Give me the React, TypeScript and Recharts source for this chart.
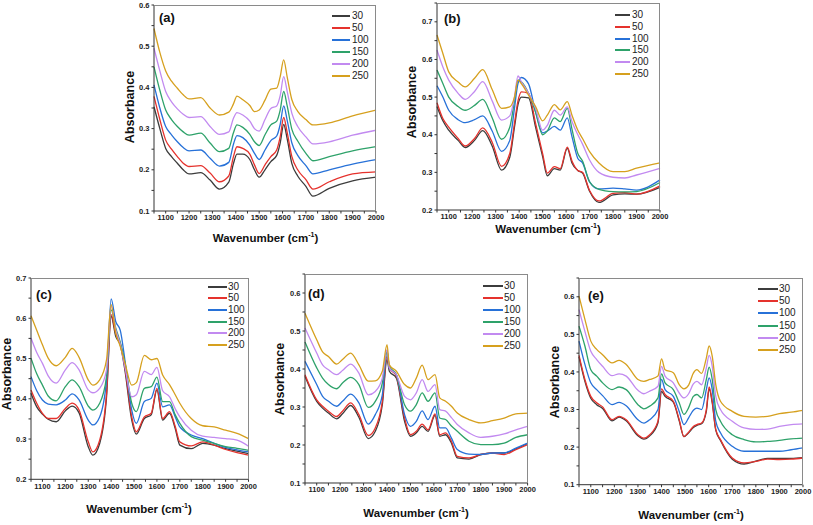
import React from 'react';
import { LineChart, Line, XAxis, YAxis } from 'recharts';

// temperatures shown in every legend
const seriesNames = ['30', '50', '100', '150', '200', '250'];
const seriesColors = ['#3c3c3c', '#e5322d', '#2771d8', '#2ea26a', '#c28af0', '#d6a01e'];

// x ticks (every 50, labels only on hundreds)
const xTicks = [1050, 1100, 1150, 1200, 1250, 1300, 1350, 1400, 1450, 1500, 1550, 1600, 1650, 1700, 1750, 1800, 1850, 1900, 1950, 2000];

// ---- panel (a)
const waveA = [1050, 1075, 1100, 1125, 1150, 1175, 1200, 1250, 1290, 1330, 1370, 1390, 1405, 1430, 1460, 1480, 1500, 1525, 1550, 1575, 1590, 1605, 1620, 1640, 1665, 1700, 1730, 1800, 1900, 2000];
const a30 = [0.353, 0.3, 0.252, 0.232, 0.216, 0.2, 0.19, 0.193, 0.175, 0.153, 0.17, 0.215, 0.238, 0.238, 0.225, 0.2, 0.182, 0.2, 0.22, 0.235, 0.265, 0.31, 0.275, 0.215, 0.185, 0.16, 0.136, 0.155, 0.173, 0.182];
const a50 = [0.378, 0.322, 0.272, 0.25, 0.232, 0.216, 0.208, 0.21, 0.192, 0.171, 0.185, 0.232, 0.256, 0.252, 0.238, 0.212, 0.191, 0.212, 0.232, 0.248, 0.28, 0.327, 0.29, 0.232, 0.2, 0.176, 0.153, 0.171, 0.19, 0.195];
const a100 = [0.406, 0.35, 0.305, 0.285, 0.268, 0.254, 0.246, 0.248, 0.228, 0.209, 0.218, 0.262, 0.283, 0.278, 0.26, 0.24, 0.225, 0.248, 0.271, 0.282, 0.31, 0.355, 0.32, 0.265, 0.235, 0.21, 0.19, 0.2, 0.214, 0.225];
const a150 = [0.45, 0.393, 0.345, 0.322, 0.305, 0.292, 0.284, 0.289, 0.265, 0.244, 0.252, 0.29, 0.309, 0.303, 0.286, 0.268, 0.259, 0.285, 0.309, 0.318, 0.345, 0.39, 0.355, 0.298, 0.27, 0.24, 0.222, 0.232, 0.246, 0.256];
const a200 = [0.495, 0.44, 0.39, 0.365, 0.348, 0.335, 0.327, 0.329, 0.305, 0.286, 0.292, 0.325, 0.339, 0.333, 0.318, 0.3, 0.294, 0.322, 0.349, 0.355, 0.38, 0.426, 0.39, 0.337, 0.305, 0.28, 0.263, 0.268, 0.284, 0.296];
const a250 = [0.543, 0.485, 0.44, 0.415, 0.398, 0.382, 0.372, 0.375, 0.35, 0.333, 0.34, 0.36, 0.379, 0.37, 0.356, 0.341, 0.345, 0.369, 0.396, 0.398, 0.426, 0.467, 0.425, 0.37, 0.342, 0.322, 0.309, 0.314, 0.331, 0.345];

// ---- panel (b)
const waveB = [1050, 1075, 1100, 1140, 1170, 1210, 1245, 1285, 1325, 1360, 1380, 1395, 1410, 1440, 1470, 1500, 1520, 1550, 1575, 1605, 1625, 1650, 1670, 1700, 1740, 1800, 1850, 1900, 2000];
const b30 = [0.475, 0.437, 0.412, 0.385, 0.366, 0.385, 0.411, 0.37, 0.306, 0.34, 0.42, 0.48, 0.5, 0.498, 0.42, 0.342, 0.291, 0.31, 0.306, 0.364, 0.325, 0.305, 0.298, 0.25, 0.22, 0.24, 0.243, 0.242, 0.26];
const b50 = [0.485, 0.443, 0.42, 0.39, 0.37, 0.39, 0.418, 0.38, 0.316, 0.35, 0.43, 0.49, 0.514, 0.51, 0.43, 0.35, 0.298, 0.315, 0.31, 0.367, 0.33, 0.305, 0.3, 0.252, 0.224, 0.244, 0.246, 0.242, 0.264];
const b100 = [0.53, 0.5, 0.465, 0.44, 0.432, 0.44, 0.45, 0.41, 0.356, 0.385, 0.47, 0.536, 0.552, 0.535, 0.46, 0.405, 0.41, 0.422, 0.412, 0.445, 0.395, 0.337, 0.325, 0.275, 0.256, 0.258, 0.256, 0.253, 0.28];
const b150 = [0.572, 0.536, 0.5, 0.475, 0.465, 0.478, 0.494, 0.445, 0.388, 0.42, 0.49, 0.545, 0.54, 0.51, 0.46, 0.4, 0.41, 0.445, 0.435, 0.47, 0.415, 0.35, 0.33, 0.275, 0.255, 0.249, 0.248, 0.249, 0.273];
const b200 = [0.625, 0.58, 0.545, 0.51, 0.494, 0.515, 0.541, 0.49, 0.439, 0.45, 0.5, 0.556, 0.54, 0.51, 0.47, 0.412, 0.425, 0.465, 0.452, 0.474, 0.435, 0.4, 0.375, 0.333, 0.3, 0.287, 0.285, 0.293, 0.311];
const b250 = [0.665, 0.616, 0.567, 0.54, 0.527, 0.55, 0.573, 0.52, 0.47, 0.474, 0.5, 0.545, 0.535, 0.505, 0.475, 0.437, 0.452, 0.48, 0.466, 0.488, 0.452, 0.412, 0.39, 0.355, 0.325, 0.302, 0.302, 0.311, 0.325];

// ---- panel (c)
const waveC = [1050, 1075, 1100, 1125, 1160, 1200, 1230, 1260, 1300, 1320, 1350, 1380, 1400, 1420, 1440, 1460, 1490, 1510, 1545, 1575, 1600, 1625, 1655, 1680, 1700, 1750, 1800, 1850, 1900, 1950, 2000];
const c30 = [0.414, 0.38, 0.362, 0.349, 0.343, 0.37, 0.382, 0.365, 0.281, 0.26, 0.289, 0.405, 0.605, 0.555, 0.534, 0.472, 0.347, 0.312, 0.351, 0.36, 0.422, 0.347, 0.364, 0.326, 0.285, 0.276, 0.289, 0.285, 0.276, 0.27, 0.264];
const c50 = [0.422, 0.389, 0.364, 0.351, 0.351, 0.376, 0.389, 0.372, 0.293, 0.268, 0.297, 0.414, 0.609, 0.563, 0.538, 0.48, 0.355, 0.318, 0.355, 0.364, 0.426, 0.351, 0.368, 0.331, 0.293, 0.283, 0.293, 0.285, 0.274, 0.266, 0.26];
const c100 = [0.455, 0.42, 0.397, 0.387, 0.385, 0.397, 0.412, 0.397, 0.347, 0.335, 0.355, 0.447, 0.648, 0.592, 0.57, 0.497, 0.372, 0.339, 0.393, 0.401, 0.439, 0.38, 0.385, 0.355, 0.33, 0.31, 0.301, 0.289, 0.279, 0.273, 0.268];
const c150 = [0.501, 0.462, 0.434, 0.407, 0.395, 0.43, 0.447, 0.43, 0.382, 0.372, 0.389, 0.455, 0.621, 0.576, 0.54, 0.49, 0.389, 0.368, 0.426, 0.43, 0.454, 0.393, 0.393, 0.36, 0.339, 0.306, 0.297, 0.289, 0.281, 0.277, 0.272];
const c200 = [0.551, 0.515, 0.488, 0.457, 0.439, 0.472, 0.49, 0.472, 0.422, 0.415, 0.426, 0.472, 0.63, 0.572, 0.535, 0.48, 0.405, 0.41, 0.468, 0.46, 0.478, 0.42, 0.405, 0.375, 0.355, 0.322, 0.307, 0.304, 0.301, 0.297, 0.282];
const c250 = [0.606, 0.57, 0.534, 0.501, 0.482, 0.503, 0.525, 0.503, 0.447, 0.434, 0.447, 0.497, 0.634, 0.563, 0.53, 0.49, 0.434, 0.44, 0.508, 0.497, 0.5, 0.459, 0.435, 0.41, 0.389, 0.351, 0.333, 0.33, 0.322, 0.314, 0.301];

// ---- panel (d)
const waveD = [1050, 1100, 1125, 1150, 1185, 1210, 1245, 1280, 1320, 1350, 1380, 1400, 1410, 1440, 1475, 1500, 1525, 1550, 1575, 1605, 1625, 1650, 1675, 1700, 1750, 1800, 1850, 1900, 1950, 2000];
const d30 = [0.381, 0.315, 0.297, 0.284, 0.269, 0.282, 0.304, 0.273, 0.217, 0.236, 0.306, 0.425, 0.394, 0.376, 0.262, 0.223, 0.232, 0.249, 0.236, 0.278, 0.223, 0.227, 0.205, 0.166, 0.163, 0.175, 0.179, 0.179, 0.19, 0.204];
const d50 = [0.385, 0.319, 0.302, 0.289, 0.275, 0.289, 0.311, 0.28, 0.225, 0.245, 0.315, 0.433, 0.403, 0.381, 0.271, 0.227, 0.236, 0.255, 0.24, 0.282, 0.227, 0.232, 0.21, 0.17, 0.166, 0.175, 0.179, 0.175, 0.188, 0.201];
const d100 = [0.42, 0.359, 0.328, 0.315, 0.302, 0.315, 0.334, 0.311, 0.255, 0.28, 0.332, 0.448, 0.403, 0.385, 0.28, 0.249, 0.262, 0.29, 0.267, 0.302, 0.245, 0.245, 0.218, 0.188, 0.176, 0.175, 0.179, 0.179, 0.192, 0.205];
const d150 = [0.471, 0.403, 0.376, 0.359, 0.348, 0.363, 0.378, 0.359, 0.299, 0.315, 0.363, 0.445, 0.407, 0.385, 0.306, 0.289, 0.306, 0.337, 0.315, 0.337, 0.271, 0.267, 0.25, 0.236, 0.21, 0.201, 0.201, 0.205, 0.22, 0.227];
const d200 = [0.508, 0.442, 0.411, 0.398, 0.385, 0.396, 0.413, 0.389, 0.332, 0.341, 0.376, 0.451, 0.403, 0.385, 0.328, 0.319, 0.337, 0.372, 0.341, 0.359, 0.293, 0.289, 0.272, 0.254, 0.232, 0.22, 0.223, 0.229, 0.24, 0.249];
const d250 = [0.547, 0.477, 0.445, 0.433, 0.413, 0.425, 0.442, 0.411, 0.368, 0.369, 0.394, 0.464, 0.411, 0.394, 0.359, 0.35, 0.376, 0.41, 0.372, 0.385, 0.324, 0.315, 0.302, 0.284, 0.267, 0.258, 0.264, 0.271, 0.282, 0.284];

// ---- panel (e)
const waveE = [1050, 1075, 1100, 1125, 1150, 1190, 1220, 1250, 1300, 1325, 1350, 1385, 1400, 1415, 1450, 1475, 1495, 1515, 1535, 1550, 1570, 1590, 1602, 1615, 1630, 1650, 1700, 1750, 1800, 1850, 1900, 1950, 2000];
const e30 = [0.44, 0.375, 0.33, 0.313, 0.303, 0.27, 0.28, 0.27, 0.23, 0.221, 0.23, 0.265, 0.348, 0.335, 0.32, 0.27, 0.228, 0.238, 0.252, 0.258, 0.262, 0.295, 0.355, 0.318, 0.245, 0.218, 0.168, 0.155, 0.163, 0.17, 0.17, 0.17, 0.172];
const e50 = [0.444, 0.38, 0.335, 0.318, 0.307, 0.273, 0.282, 0.273, 0.233, 0.224, 0.233, 0.269, 0.355, 0.34, 0.322, 0.273, 0.228, 0.24, 0.255, 0.26, 0.264, 0.3, 0.36, 0.322, 0.247, 0.22, 0.171, 0.158, 0.162, 0.168, 0.167, 0.168, 0.171];
const e100 = [0.482, 0.42, 0.371, 0.353, 0.337, 0.313, 0.319, 0.31, 0.273, 0.264, 0.273, 0.3, 0.38, 0.353, 0.335, 0.295, 0.26, 0.278, 0.298, 0.304, 0.3, 0.353, 0.384, 0.353, 0.269, 0.238, 0.202, 0.189, 0.189, 0.189, 0.189, 0.193, 0.198];
const e150 = [0.522, 0.469, 0.406, 0.389, 0.371, 0.353, 0.36, 0.353, 0.313, 0.302, 0.309, 0.331, 0.395, 0.371, 0.353, 0.318, 0.287, 0.305, 0.335, 0.34, 0.331, 0.38, 0.413, 0.38, 0.3, 0.269, 0.233, 0.22, 0.214, 0.215, 0.218, 0.222, 0.224];
const e200 = [0.566, 0.508, 0.455, 0.433, 0.415, 0.39, 0.395, 0.389, 0.351, 0.342, 0.349, 0.362, 0.415, 0.389, 0.371, 0.344, 0.331, 0.342, 0.368, 0.375, 0.366, 0.411, 0.444, 0.415, 0.335, 0.3, 0.269, 0.251, 0.247, 0.248, 0.255, 0.26, 0.262];
const e250 = [0.602, 0.54, 0.482, 0.46, 0.446, 0.424, 0.431, 0.42, 0.38, 0.375, 0.38, 0.389, 0.435, 0.406, 0.398, 0.366, 0.355, 0.365, 0.397, 0.406, 0.396, 0.437, 0.469, 0.442, 0.366, 0.322, 0.295, 0.282, 0.28, 0.282, 0.289, 0.293, 0.298];

const yTicksA = [0.1, 0.15, 0.2, 0.25, 0.3, 0.35, 0.4, 0.45, 0.5, 0.55, 0.6];
const yTicksB = [0.2, 0.25, 0.3, 0.35, 0.4, 0.45, 0.5, 0.55, 0.6, 0.65, 0.7, 0.75];
const yTicksC = [0.2, 0.25, 0.3, 0.35, 0.4, 0.45, 0.5, 0.55, 0.6, 0.65, 0.7];
const yTicksD = [0.1, 0.15, 0.2, 0.25, 0.3, 0.35, 0.4, 0.45, 0.5, 0.55, 0.6, 0.65];

const FONT = 'Arial, "Liberation Sans", sans-serif';

function rows(wave: number[], series: number[][]) {
	return wave.map((w, i) => {
		const r: any = { w };
		seriesNames.forEach((n, k) => (r['s' + n] = series[k][i]));
		return r;
	});
}

function yFmt(v: number) {
	return Math.abs(v * 10 - Math.round(v * 10)) < 1e-6 ? v.toFixed(1) : '';
}
function xFmt(v: number) {
	return v % 100 === 0 ? String(v) : '';
}

type PanelProps = {
	tag: string;
	data: any[];
	box: [number, number, number, number]; // x0, x1, y0, y1 of plot area
	yDomain: [number, number];
	yTicks: number[];
	labelPos: [number, number];
	yTitle: [number, number];
	xTitle: [number, number];
	legend: [number, number, number, number, number]; // lineX0, lineX1, textX, rowY0, step
};

const Panel = (p: PanelProps) => {
	const [x0, x1, y0, y1] = p.box;
	const left = x0 - 35;
	const top = y0 - 3;
	const width = x1 - x0 + 47;
	const height = y1 - y0 + 25;
	const [lx0, lx1, tx, ry0, step] = p.legend;
	const tickStyle = { fontSize: 7.5, fontWeight: 'bold', fill: '#222', fontFamily: FONT };
	return (
		<>
			<div style={{ position: 'absolute', left, top }}>
				<LineChart width={width} height={height} data={p.data} margin={{ top: 3, right: 12, left: 5, bottom: 5 }}>
					<XAxis
						dataKey="w"
						type="number"
						domain={[1050, 2000]}
						ticks={xTicks}
						interval={0}
						tickFormatter={xFmt}
						tick={tickStyle}
						tickSize={2.5}
						tickMargin={1.5}
						height={17}
						axisLine={{ stroke: '#333' }}
						tickLine={{ stroke: '#333' }}
					/>
					<YAxis
						type="number"
						domain={p.yDomain}
						ticks={p.yTicks}
						interval={0}
						tickFormatter={yFmt}
						tick={tickStyle}
						tickSize={2.5}
						tickMargin={2}
						width={30}
						axisLine={{ stroke: '#333' }}
						tickLine={{ stroke: '#333' }}
					/>
					{seriesNames.map((n, k) => (
						<Line
							key={n}
							type="monotone"
							dataKey={'s' + n}
							stroke={seriesColors[k]}
							strokeWidth={1.3}
							dot={false}
							isAnimationActive={false}
						/>
					))}
				</LineChart>
			</div>
			{/* top and right frame of the plot box */}
			<div style={{ position: 'absolute', left: x0, top: y0, width: x1 - x0, height: y1 - y0, borderTop: '1px solid #8a8a8a', borderRight: '1px solid #8a8a8a', boxSizing: 'border-box', pointerEvents: 'none' }} />
			<div style={{ position: 'absolute', left: p.labelPos[0], top: p.labelPos[1], transform: 'translateY(-50%)', fontSize: 13, fontWeight: 'bold', fontFamily: FONT, color: '#111', lineHeight: 1 }}>
				({p.tag})
			</div>
			<div style={{ position: 'absolute', left: p.yTitle[0], top: p.yTitle[1], transform: 'translate(-50%,-50%) rotate(-90deg)', fontSize: 12.5, fontWeight: 'bold', fontFamily: FONT, color: '#111', whiteSpace: 'nowrap', lineHeight: 1 }}>
				Absorbance
			</div>
			<div style={{ position: 'absolute', left: p.xTitle[0], top: p.xTitle[1], transform: 'translate(-50%,-50%)', fontSize: 11.5, fontWeight: 'bold', fontFamily: FONT, color: '#111', whiteSpace: 'nowrap', lineHeight: 1 }}>
				Wavenumber (cm<sup style={{ fontSize: 7, lineHeight: 0 }}>-1</sup>)
			</div>
			{seriesNames.map((n, k) => (
				<React.Fragment key={n}>
					<div style={{ position: 'absolute', left: lx0, top: Math.round(ry0 + k * step) - 1, width: lx1 - lx0, height: 2, background: seriesColors[k] }} />
					<div style={{ position: 'absolute', left: tx, top: Math.round(ry0 + k * step), transform: 'translateY(-50%)', fontSize: 10, fontFamily: FONT, color: '#222', lineHeight: 1 }}>
						{n}
					</div>
				</React.Fragment>
			))}
		</>
	);
};

const App = () => {
	const dataA = rows(waveA, [a30, a50, a100, a150, a200, a250]);
	const dataB = rows(waveB, [b30, b50, b100, b150, b200, b250]);
	const dataC = rows(waveC, [c30, c50, c100, c150, c200, c250]);
	const dataD = rows(waveD, [d30, d50, d100, d150, d200, d250]);
	const dataE = rows(waveE, [e30, e50, e100, e150, e200, e250]);
	return (
		<div style={{ position: 'absolute', left: 0, top: 0, width: 813, height: 525, background: '#fff', overflow: 'hidden' }}>
			<Panel tag="a" data={dataA} box={[154, 376, 5, 211]} yDomain={[0.1, 0.6]} yTicks={yTicksA} labelPos={[159, 17]} yTitle={[130, 107]} xTitle={[265.5, 239]} legend={[332, 350, 352, 16, 11.95]} />
			<Panel tag="b" data={dataB} box={[437, 660, 3, 210]} yDomain={[0.2, 0.75]} yTicks={yTicksB} labelPos={[444, 18]} yTitle={[412, 102]} xTitle={[548, 230]} legend={[615, 630, 632, 15, 11.8]} />
			<Panel tag="c" data={dataC} box={[31, 248.5, 277.7, 479]} yDomain={[0.2, 0.7]} yTicks={yTicksC} labelPos={[36, 294]} yTitle={[7, 374]} xTitle={[139, 510]} legend={[208, 227, 228, 286.7, 11.67]} />
			<Panel tag="d" data={dataD} box={[305, 527.6, 274.3, 483.3]} yDomain={[0.1, 0.65]} yTicks={yTicksD} labelPos={[308, 293]} yTitle={[280, 379]} xTitle={[416, 514]} legend={[483, 503, 504, 285.7, 12.1]} />
			<Panel tag="e" data={dataE} box={[579, 803, 278.3, 485]} yDomain={[0.1, 0.65]} yTicks={yTicksD} labelPos={[588, 295]} yTitle={[555, 382]} xTitle={[691, 516]} legend={[758, 778, 779, 289, 12.2]} />
		</div>
	);
};

export default App;
